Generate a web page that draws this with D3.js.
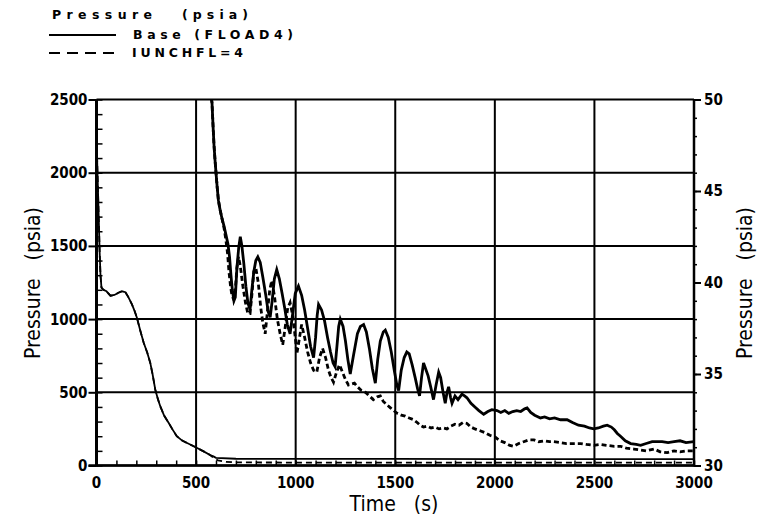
<!DOCTYPE html>
<html>
<head>
<meta charset="utf-8">
<script src="https://cdn.jsdelivr.net/npm/d3@7"></script>
<style>
  body { margin: 0; background: #fff; }
  svg { display: block; }
  .tick-label { font-family: "DejaVu Sans Condensed", "Liberation Sans Narrow", sans-serif; font-size: 15px; font-weight: bold; fill: #000; }
  .axis-title { font-family: "DejaVu Sans Condensed", "Liberation Sans Narrow", sans-serif; font-size: 21px; fill: #000; }
  .legend { font-family: "DejaVu Sans", sans-serif; font-size: 12.5px; font-weight: bold; fill: #000; }
</style>
</head>
<body>
<svg width="763" height="522"></svg>
<script>
// primary pressure, left axis (psia)
var primaryTime = [0, 4, 8, 12, 16, 20, 25, 35, 50, 70, 90, 110, 128, 145, 160, 178, 190, 203, 220, 237, 255, 270, 282, 295, 308, 320, 340, 362, 380, 403, 430, 460, 503, 540, 570, 587, 600, 700, 1000, 1500, 2000, 2500, 3000];
var primaryBase = [2250, 2050, 1850, 1650, 1450, 1300, 1215, 1200, 1190, 1160, 1165, 1180, 1190, 1184, 1150, 1100, 1060, 1009, 920, 838, 770, 701, 620, 519, 455, 405, 340, 292, 250, 200, 170, 150, 121, 95, 72, 62, 52, 46, 45, 45, 44, 44, 44];
var primaryUnchTime = [0, 4, 8, 12, 16, 20, 25, 35, 50, 70, 90, 110, 128, 145, 160, 178, 190, 203, 220, 237, 255, 270, 282, 295, 308, 320, 340, 362, 380, 403, 430, 460, 503, 540, 570, 590, 610, 650, 700, 1000, 1500, 2000, 2500, 3000];
var primaryUnch = [2250, 2050, 1850, 1650, 1450, 1300, 1215, 1200, 1190, 1160, 1165, 1180, 1190, 1184, 1150, 1100, 1060, 1009, 920, 838, 770, 701, 620, 519, 455, 405, 340, 292, 250, 200, 170, 150, 121, 95, 72, 50, 35, 25, 21, 20, 20, 20, 20, 20];

// containment pressure, right axis (psia)
var baseTime = [572, 580, 585, 590, 595, 600, 606, 612, 620, 630, 640, 650, 660, 668, 675, 682, 690, 697, 705, 714, 722, 730, 740, 750, 760, 771, 780, 790, 800, 810, 822, 835, 850, 862, 872, 882, 893, 905, 918, 932, 945, 958, 972, 985, 998, 1014, 1030, 1045, 1060, 1075, 1090, 1100, 1108, 1115, 1130, 1145, 1160, 1175, 1188, 1198, 1208, 1216, 1224, 1238, 1250, 1262, 1274, 1290, 1310, 1325, 1341, 1355, 1370, 1385, 1400, 1412, 1425, 1440, 1450, 1465, 1480, 1495, 1508, 1517, 1530, 1545, 1558, 1570, 1585, 1600, 1612, 1622, 1632, 1642, 1652, 1665, 1678, 1692, 1705, 1718, 1728, 1740, 1751, 1760, 1768, 1778, 1785, 1800, 1815, 1835, 1848, 1860, 1880, 1900, 1920, 1944, 1965, 1985, 2011, 2030, 2050, 2070, 2090, 2110, 2130, 2150, 2162, 2180, 2200, 2229, 2250, 2275, 2300, 2330, 2363, 2390, 2420, 2450, 2475, 2497, 2520, 2545, 2564, 2585, 2600, 2615, 2631, 2655, 2682, 2710, 2732, 2760, 2790, 2815, 2840, 2870, 2900, 2930, 2960, 3000];
var basePress = [50.5, 49.8, 48.6, 47.5, 46.7, 46.0, 45.2, 44.5, 44.0, 43.5, 43.1, 42.6, 42.1, 41.4, 40.4, 39.6, 39.0, 39.2, 40.8, 41.9, 42.5, 42.0, 41.0, 39.8, 38.9, 38.5, 39.6, 40.6, 41.2, 41.4, 41.1, 40.3, 39.3, 38.4, 38.1, 39.0, 40.2, 40.7, 40.2, 39.4, 38.6, 37.7, 37.2, 38.3, 39.4, 39.8, 39.3, 38.5, 37.5, 36.5, 35.9, 37.0, 38.2, 38.8, 38.5, 37.9, 37.0, 36.2, 35.6, 35.4, 36.6, 37.6, 38.0, 37.6, 36.8, 35.8, 35.0, 36.0, 37.2, 37.6, 37.7, 37.3, 36.4, 35.3, 34.5, 35.8, 36.8, 37.3, 37.4, 37.0, 36.2, 35.2, 34.4, 34.1, 35.2, 35.9, 36.2, 36.1, 35.5, 34.8, 34.2, 33.8, 34.8, 35.6, 35.3, 34.9, 34.3, 33.6, 34.4, 35.1, 34.8, 34.0, 33.4, 34.0, 34.3, 33.7, 33.4, 33.8, 33.6, 33.9, 33.8, 33.7, 33.4, 33.2, 33.0, 32.8, 32.95, 33.05, 33.0, 32.9, 33.0, 32.85, 32.95, 33.0, 32.95, 33.1, 33.15, 32.9, 32.75, 32.6, 32.65, 32.55, 32.6, 32.5, 32.5, 32.35, 32.2, 32.15, 32.05, 32.0, 32.05, 32.15, 32.2, 32.1, 31.95, 31.75, 31.6, 31.35, 31.2, 31.15, 31.1, 31.2, 31.3, 31.3, 31.3, 31.25, 31.3, 31.35, 31.25, 31.3];

var unchTime = [572, 580, 585, 590, 595, 600, 606, 612, 620, 630, 640, 650, 658, 665, 673, 680, 688, 697, 705, 713, 722, 735, 748, 760, 771, 780, 790, 800, 812, 825, 835, 847, 858, 870, 880, 893, 908, 922, 935, 948, 960, 972, 985, 998, 1006, 1018, 1030, 1045, 1060, 1075, 1090, 1106, 1120, 1135, 1150, 1165, 1178, 1190, 1205, 1220, 1235, 1250, 1265, 1280, 1295, 1310, 1330, 1350, 1370, 1390, 1410, 1425, 1440, 1460, 1476, 1492, 1510, 1530, 1550, 1570, 1592, 1610, 1625, 1642, 1660, 1680, 1700, 1720, 1740, 1759, 1780, 1800, 1820, 1840, 1860, 1880, 1900, 1926, 1950, 1975, 2003, 2025, 2050, 2075, 2095, 2120, 2145, 2170, 2196, 2220, 2250, 2275, 2296, 2330, 2360, 2400, 2430, 2460, 2497, 2530, 2560, 2600, 2631, 2660, 2698, 2730, 2760, 2800, 2830, 2866, 2900, 2930, 2960, 3000];
var unchPress = [50.5, 49.8, 48.6, 47.5, 46.7, 46.0, 45.2, 44.5, 44.0, 43.5, 43.0, 42.3, 41.6, 40.6, 39.8, 39.3, 39.1, 39.6, 40.8, 41.4, 40.9, 39.8, 38.9, 38.3, 38.3, 39.3, 40.6, 40.8, 40.0, 38.6, 37.8, 37.2, 38.4, 39.6, 40.1, 39.3, 38.0, 37.2, 36.6, 37.6, 38.6, 38.9, 38.2, 37.0, 36.1, 36.9, 37.7, 37.0, 36.2, 35.6, 35.2, 35.1, 35.9, 36.4, 35.9, 35.2, 34.8, 34.55, 35.1, 35.5, 35.1, 34.7, 34.4, 34.45, 34.5, 34.3, 34.1, 34.0, 33.8, 33.6, 33.75, 33.8, 33.5, 33.3, 33.15, 33.0, 32.85, 32.75, 32.7, 32.6, 32.5, 32.35, 32.2, 32.1, 32.15, 32.05, 32.1, 32.0, 32.05, 32.0, 32.15, 32.25, 32.2, 32.35, 32.3, 32.1, 32.0, 31.9, 31.8, 31.65, 31.55, 31.35, 31.25, 31.1, 31.05, 31.2, 31.3, 31.4, 31.4, 31.3, 31.35, 31.3, 31.3, 31.25, 31.2, 31.2, 31.2, 31.15, 31.1, 31.15, 31.1, 31.05, 31.05, 30.95, 30.9, 30.85, 30.8, 30.9, 30.75, 30.7, 30.8, 30.75, 30.8, 30.8];

var xTicks = [0, 500, 1000, 1500, 2000, 2500, 3000];
var yLeftTicks = [0, 500, 1000, 1500, 2000, 2500];
var yRightTicks = [30, 35, 40, 45, 50];

var svg = d3.select("svg");
var plotLeft = 96.5, plotRight = 694, plotTop = 99.5, plotBottom = 465.5;

var x = d3.scaleLinear().domain([0, 3000]).range([plotLeft, plotRight]);
var yL = d3.scaleLinear().domain([0, 2500]).range([plotBottom, plotTop]);
var yR = d3.scaleLinear().domain([30, 50]).range([plotBottom, plotTop]);

svg.append("defs").append("clipPath").attr("id", "plot")
  .append("rect").attr("x", plotLeft).attr("y", plotTop)
  .attr("width", plotRight - plotLeft).attr("height", plotBottom - plotTop);

// grid
var grid = svg.append("g").attr("stroke", "#000").attr("stroke-width", 2);
grid.selectAll(".gx").data(xTicks).enter().append("line")
  .attr("x1", function(d){ return x(d) }).attr("x2", function(d){ return x(d) })
  .attr("y1", plotTop).attr("y2", plotBottom);
grid.selectAll(".gy").data(yLeftTicks).enter().append("line")
  .attr("x1", plotLeft).attr("x2", plotRight)
  .attr("y1", function(d){ return yL(d) }).attr("y2", function(d){ return yL(d) });

// axes
var axisLeft = d3.axisLeft(yL).tickValues(yLeftTicks).tickSize(8).tickFormat("");
var axisLeftMinor = d3.axisRight(yL).tickValues(d3.range(0, 2501, 100)).tickSize(6).tickFormat("");
var axisBottomMinor = d3.axisTop(x).tickValues(d3.range(0, 3001, 100)).tickSize(5).tickFormat("");
var axisRight = d3.axisRight(yR).tickValues(yRightTicks).tickSize(7).tickFormat("");
var axisRightMinor = d3.axisRight(yR).tickValues(d3.range(30, 50.1, 1)).tickSize(3).tickFormat("");

function styleAxis(g, w) {
  g.select(".domain").remove();
  g.selectAll("line").attr("stroke", "#000").attr("stroke-width", w);
}
svg.append("g").attr("transform", "translate(" + plotLeft + ",0)").call(axisLeft).call(styleAxis, 2);
svg.append("g").attr("transform", "translate(" + plotLeft + ",0)").call(axisLeftMinor).call(styleAxis, 1.5);
svg.append("g").attr("transform", "translate(0," + plotBottom + ")").call(axisBottomMinor).call(styleAxis, 1.5);
svg.append("g").attr("transform", "translate(" + plotRight + ",0)").call(axisRight).call(styleAxis, 2);
svg.append("g").attr("transform", "translate(" + plotRight + ",0)").call(axisRightMinor).call(styleAxis, 1.5);

svg.append("line").attr("x1", plotLeft).attr("x2", plotLeft).attr("y1", plotTop).attr("y2", plotBottom + 1)
  .attr("stroke", "#000").attr("stroke-width", 3);
svg.append("line").attr("x1", plotRight).attr("x2", plotRight).attr("y1", plotTop).attr("y2", plotBottom + 1)
  .attr("stroke", "#000").attr("stroke-width", 2.5);
svg.append("line").attr("x1", plotLeft - 8).attr("x2", plotRight + 1).attr("y1", plotBottom).attr("y2", plotBottom)
  .attr("stroke", "#000").attr("stroke-width", 2.5);

// tick labels
svg.selectAll(".lyl").data(yLeftTicks).enter().append("text").attr("class", "tick-label")
  .attr("x", plotLeft - 9).attr("y", function(d){ return yL(d) }).attr("dy", "0.36em")
  .attr("text-anchor", "end").text(function(d){ return d });
svg.selectAll(".lyr").data(yRightTicks).enter().append("text").attr("class", "tick-label")
  .attr("x", plotRight + 10).attr("y", function(d){ return yR(d) }).attr("dy", "0.36em")
  .attr("text-anchor", "start").text(function(d){ return d });
svg.selectAll(".lx").data(xTicks).enter().append("text").attr("class", "tick-label")
  .attr("x", function(d){ return x(d) }).attr("y", plotBottom + 22)
  .attr("text-anchor", "middle").text(function(d){ return d });

// titles
svg.append("text").attr("class", "axis-title").attr("text-anchor", "middle")
  .attr("transform", "translate(40,283) rotate(-90)").attr("xml:space", "preserve").text("Pressure   (psia)");
svg.append("text").attr("class", "axis-title").attr("text-anchor", "middle")
  .attr("transform", "translate(752,283) rotate(-90)").attr("xml:space", "preserve").text("Pressure   (psia)");
svg.append("text").attr("class", "axis-title").attr("text-anchor", "middle")
  .attr("x", 394).attr("y", 511).attr("xml:space", "preserve").text("Time   (s)");

// curves
var lineL = d3.line().x(function(d){ return x(d[0]) }).y(function(d){ return yL(d[1]) });
var lineR = d3.line().x(function(d){ return x(d[0]) }).y(function(d){ return yR(d[1]) });
var curves = svg.append("g").attr("clip-path", "url(#plot)").attr("fill", "none").attr("stroke", "#000");

curves.append("path").attr("d", lineL(d3.zip(primaryUnchTime, primaryUnch)))
  .attr("stroke-width", 1.8).attr("stroke-dasharray", "6,4");
curves.append("path").attr("d", lineL(d3.zip(primaryTime, primaryBase)))
  .attr("stroke-width", 1.8);
curves.append("path").attr("d", lineR(d3.zip(unchTime, unchPress)))
  .attr("stroke-width", 2.8).attr("stroke-dasharray", "5,3");
curves.append("path").attr("d", lineR(d3.zip(baseTime, basePress)))
  .attr("stroke-width", 2.8);

// legend
svg.append("text").attr("class", "legend").attr("x", 52).attr("y", 19)
  .attr("textLength", 100).attr("lengthAdjust", "spacing").text("Pressure");
svg.append("text").attr("class", "legend").attr("x", 182).attr("y", 19)
  .attr("textLength", 66).attr("lengthAdjust", "spacing").text("(psia)");
svg.append("line").attr("x1", 49).attr("x2", 116).attr("y1", 35).attr("y2", 35)
  .attr("stroke", "#000").attr("stroke-width", 2);
svg.append("text").attr("class", "legend").attr("x", 133).attr("y", 39)
  .attr("textLength", 160).attr("lengthAdjust", "spacing").text("Base (FLOAD4)");
svg.append("line").attr("x1", 49).attr("x2", 116).attr("y1", 53).attr("y2", 53)
  .attr("stroke", "#000").attr("stroke-width", 2).attr("stroke-dasharray", "11,7");
svg.append("text").attr("class", "legend").attr("x", 132).attr("y", 57)
  .attr("textLength", 111).attr("lengthAdjust", "spacing").text("IUNCHFL=4");
</script>
</body>
</html>
